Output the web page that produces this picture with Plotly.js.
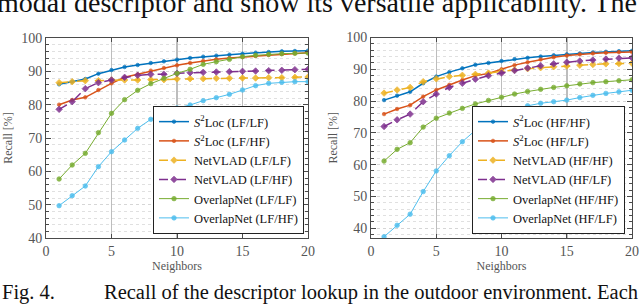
<!DOCTYPE html>
<html>
<head>
<meta charset="utf-8">
<script src="https://cdn.plot.ly/plotly-3.0.1.min.js"></script>
<style>html,body{margin:0;padding:0;background:#fff;}#chart{width:640px;height:304px;}</style>
</head>
<body>
<div id="chart"></div>
<script>
// ---- data ----
const neighbors = [1,2,3,4,5,6,7,8,9,10,11,12,13,14,15,16,17,18,19,20];

// left panel (LF queries)
const s2locLFLF   = [86.1,86.9,87.7,89.3,90.4,91.3,91.9,92.5,93.0,93.5,94.0,94.4,94.7,95.0,95.3,95.6,95.8,96.0,96.1,96.2];
const s2locLFHF   = [80.0,81.4,82.2,84.4,86.4,88.2,89.1,90.2,91.0,91.8,92.5,93.1,93.6,94.0,94.3,94.6,94.9,95.2,95.4,95.6];
const netvladLFLF = [86.6,86.9,87.2,87.2,87.4,87.4,87.4,87.5,87.5,87.7,87.8,87.8,87.9,87.9,88.0,88.0,88.1,88.1,88.2,88.3];
const netvladLFHF = [78.6,80.9,84.8,86.6,87.4,88.2,88.8,89.1,89.1,89.4,89.6,89.7,89.8,89.9,90.0,90.1,90.2,90.3,90.5,90.6];
const overlapLFLF = [57.7,61.9,65.4,71.6,77.4,81.5,84.3,86.3,87.9,89.4,90.6,92.1,92.9,93.6,94.4,94.8,95.1,95.3,95.4,95.5];
const overlapLFHF = [49.7,52.7,55.6,61.4,65.9,69.4,72.9,75.6,77.4,79.0,79.9,81.2,82.1,83.1,84.4,85.7,86.4,86.7,86.9,86.9];

// right panel (HF queries)
const s2locHFHF   = [80.3,81.7,82.9,85.6,87.7,89.1,90.3,91.4,92.0,92.6,93.2,93.6,94.0,94.4,94.7,95.0,95.3,95.5,95.7,95.8];
const s2locHFLF   = [75.9,77.5,78.7,81.4,83.5,85.1,86.6,88.0,88.7,90.0,91.3,92.2,93.1,93.8,94.3,94.7,95.0,95.2,95.4,95.4];
const netvladHFHF = [82.5,83.5,84.3,86.1,87.0,87.7,88.1,88.4,88.8,89.3,89.8,90.2,90.5,90.8,91.0,91.3,91.5,91.7,91.8,91.9];
const netvladHFLF = [72.0,74.1,75.9,79.8,82.2,84.3,85.6,86.9,88.0,88.8,89.6,90.4,91.1,91.7,92.2,92.6,92.9,93.2,93.5,93.6];
const overlapHFHF = [61.1,64.8,66.9,71.8,74.6,76.2,77.7,79.1,80.2,81.2,82.2,83.0,83.7,84.3,84.8,85.4,85.8,86.1,86.4,86.7];
const overlapHFLF = [37.3,40.9,44.4,51.5,58.0,62.8,67.2,70.8,72.8,75.8,77.4,78.5,79.3,79.8,80.3,81.1,81.8,82.4,82.9,83.4];

const leftNames  = ['<i>S</i><sup>2</sup>Loc (LF/LF)','<i>S</i><sup>2</sup>Loc (LF/HF)','NetVLAD (LF/LF)','NetVLAD (LF/HF)','OverlapNet (LF/LF)','OverlapNet (LF/HF)'];
const rightNames = ['<i>S</i><sup>2</sup>Loc (HF/HF)','<i>S</i><sup>2</sup>Loc (HF/LF)','NetVLAD (HF/HF)','NetVLAD (HF/LF)','OverlapNet (HF/HF)','OverlapNet (HF/LF)'];
const xTicks = [0,5,10,15,20];
const topLine = 'modal descriptor and show its versatile applicability. The';
const captionLabel = 'Fig. 4.';
const captionText = 'Recall of the descriptor lookup in the outdoor environment. Each';

// ---- styles ----
const W = 640, H = 304;
const px = v => v / W, py = v => 1 - v / H;
const colors = ['#0072BD','#D95319','#EDB120','#7E2F8E','#77AC30','#4DBEEE'];
const styles = [
  {dash:'solid', symbol:'circle', size:3.5, lw:1.5},
  {dash:'solid', symbol:'circle', size:3.5, lw:1.5},
  {dash:'dash',  symbol:'diamond', size:5, lw:1.5},
  {dash:'dash',  symbol:'diamond', size:5, lw:1.5},
  {dash:'solid', symbol:'circle', size:4.5, lw:1},
  {dash:'solid', symbol:'circle', size:4.5, lw:1}
];
const font = "'Liberation Serif', 'Times New Roman', serif";

function mk(y, i, name, xa, ya, leg) {
  const s = styles[i];
  return {
    x: neighbors, y: y, name: name, type: 'scatter', mode: 'lines+markers',
    xaxis: xa, yaxis: ya, legend: leg,
    line: {color: colors[i], width: s.lw, dash: s.dash},
    marker: {color: colors[i], symbol: s.symbol, size: s.size,
             line: {color: colors[i], width: 0.8}, opacity: 0.85}
  };
}
const leftData  = [s2locLFLF, s2locLFHF, netvladLFLF, netvladLFHF, overlapLFLF, overlapLFHF];
const rightData = [s2locHFHF, s2locHFLF, netvladHFHF, netvladHFLF, overlapHFHF, overlapHFLF];
const traces = [];
leftData.forEach((d,i) => traces.push(mk(d, i, leftNames[i], 'x', 'y', 'legend')));
rightData.forEach((d,i) => traces.push(mk(d, i, rightNames[i], 'x2', 'y2', 'legend2')));

function xax(dom) {
  return {
    domain: dom, range: [0, 20], tickvals: xTicks, ticktext: xTicks.map(String),
    showgrid: true, gridcolor: '#bdbdbd', gridwidth: 1.5,
    zeroline: false, showline: true, linecolor: '#4a4a4a', linewidth: 1, mirror: 'ticks',
    ticks: 'inside', ticklen: 4, tickcolor: '#4a4a4a',
    tickfont: {family: font, size: 14, color: '#555'},
    title: {text: 'Neighbors', font: {family: font, size: 12, color: '#555'}, standoff: 2}
  };
}
function yax(dom, rng, anchor) {
  return {
    domain: dom, range: rng, anchor: anchor, dtick: 10, tick0: 0,
    showgrid: true, gridcolor: '#d6d6d6', gridwidth: 1, griddash: 'dot',
    zeroline: false, showline: true, linecolor: '#4a4a4a', linewidth: 1, mirror: 'ticks',
    ticks: 'inside', ticklen: 5, tickcolor: '#4a4a4a',
    minor: {dtick: 2, ticks: 'inside', ticklen: 3, tickcolor: '#4a4a4a', showgrid: true, gridcolor: '#e0e0e0', griddash: 'dot'},
    tickfont: {family: font, size: 14, color: '#555'},
    title: {text: 'Recall [%]', font: {family: font, size: 12, color: '#555'}, standoff: 6}
  };
}
const legendStyle = (x, y) => ({
  x: x, y: y, xanchor: 'left', yanchor: 'bottom', bgcolor: '#fff',
  bordercolor: '#222', borderwidth: 1, tracegroupgap: 0, itemwidth: 30,
  font: {family: font, size: 12.5, color: '#111'}
});

const annotations = [
  {text: topLine, xref: 'paper', yref: 'paper', x: px(-4), y: py(19),
   xanchor: 'left', yanchor: 'bottom', showarrow: false, borderpad: 0,
   font: {family: font, size: 28, color: '#111'}},
  {text: captionLabel, xref: 'paper', yref: 'paper', x: px(1), y: py(292), xanchor: 'left', yanchor: 'middle',
   showarrow: false, borderpad: 0, font: {family: font, size: 20.5, color: '#111'}},
  {text: captionText, xref: 'paper', yref: 'paper', x: px(639), y: py(292), xanchor: 'right', yanchor: 'middle',
   showarrow: false, borderpad: 0, font: {family: font, size: 20.5, color: '#111'}}
];

const layout = {
  width: W, height: H, margin: {l: 0, r: 0, t: 0, b: 0},
  font: {family: font},
  paper_bgcolor: '#fff', plot_bgcolor: '#fff', showlegend: true,
  xaxis:  Object.assign(xax([px(46), px(308)]), {anchor: 'y'}),
  yaxis:  yax([py(238), py(38)], [40, 100], 'x'),
  xaxis2: Object.assign(xax([px(371), px(632)]), {anchor: 'y2'}),
  yaxis2: yax([py(238), py(37.5)], [36.9, 100], 'x2'),
  legend:  legendStyle(px(153), py(234)),
  legend2: legendStyle(px(472), py(234)),
  annotations: annotations
};
Plotly.newPlot('chart', traces, layout, {displayModeBar: false, staticPlot: true});
</script>
</body>
</html>
